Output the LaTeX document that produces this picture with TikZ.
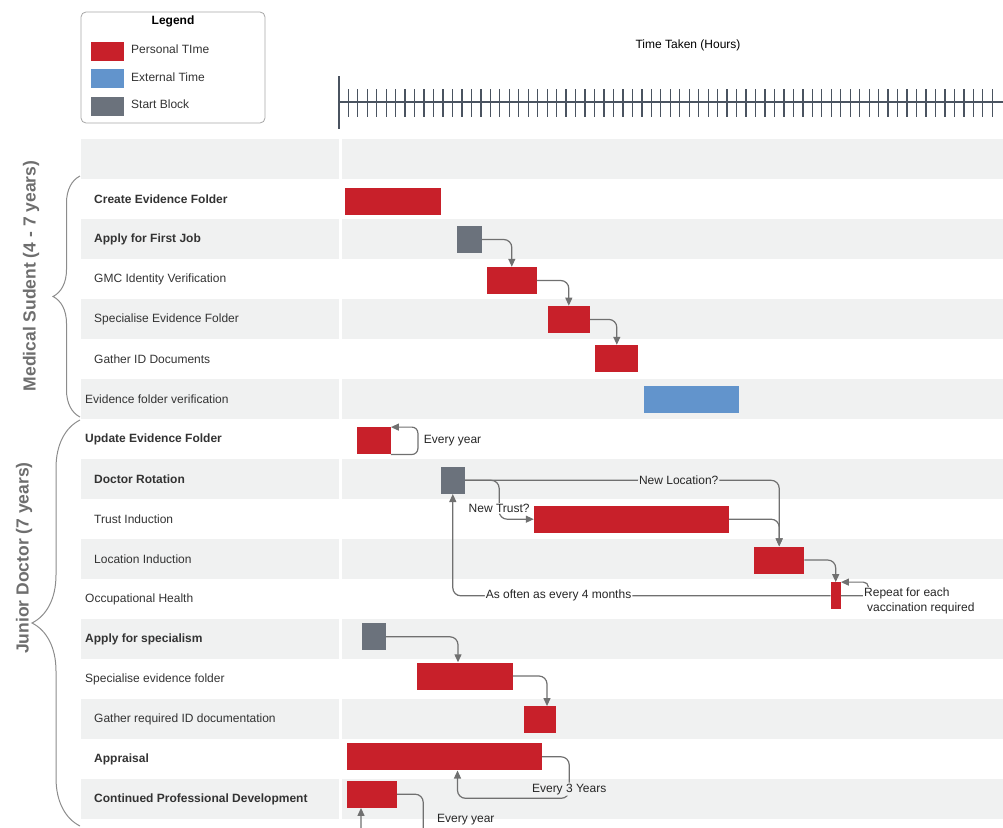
\documentclass[tikz,border=0pt]{standalone}
\usepackage{fontspec}
\setmainfont{Liberation Sans}
\usepackage{tikz}
\usetikzlibrary{arrows.meta, decorations.pathreplacing}

\definecolor{ptime}{HTML}{C8202A}
\definecolor{etime}{HTML}{6294CC}
\definecolor{sblock}{HTML}{6B727C}
\definecolor{rowgray}{HTML}{F0F1F1}
\definecolor{linegray}{HTML}{707070}
\definecolor{axisgray}{HTML}{4A5360}
\definecolor{txtgray}{HTML}{333333}
\definecolor{bracegray}{HTML}{8C8C8C}
\definecolor{grouptxt}{HTML}{6E6E6E}

\begin{document}
\begin{tikzpicture}[x=1pt,y=-1pt,
  font=\fontsize{12}{14}\selectfont,
  bar/.style={inner sep=0pt,minimum height=27pt},
  pbar/.style={bar,fill=ptime},
  ebar/.style={bar,fill=etime},
  sbar/.style={bar,fill=sblock},
  rowlabel/.style={anchor=west,inner sep=0pt,text=txtgray},
  conn/.style={draw=linegray,line width=1.2pt,rounded corners=8pt,-{Triangle[length=8pt,width=7pt]}},
  lbl/.style={fill=white,inner sep=1pt,text=black!85},
  grp/.style={rotate=90,font=\fontsize{17.5}{20}\selectfont\bfseries,text=grouptxt},
  grpbrace/.style={draw=bracegray,line width=1pt,decorate,decoration={brace,amplitude=#1}}]
\useasboundingbox (0,0) rectangle (1003,827);
\clip (0,0) rectangle (1003,827);

\foreach \i in {0,2,...,16} {
  \fill[rowgray] (81,139+40*\i) rectangle (339,179+40*\i);
  \fill[rowgray] (342,139+40*\i) rectangle (1003,179+40*\i);
}

% legend
\node[draw=gray!70,line width=0.8pt,rounded corners=5pt,minimum width=184pt,minimum height=111pt] (legend) at (173,67.5) {};
\node[font=\fontsize{12}{14}\selectfont\bfseries] (legendtitle) at (173,21) {Legend};
\node[pbar,minimum width=33pt,minimum height=19pt] (keyp) at (107,51) {};
\node[ebar,minimum width=33pt,minimum height=19pt] (keye) at (107,78.5) {};
\node[sbar,minimum width=33pt,minimum height=19pt] (keys) at (107,106) {};
\node[rowlabel] (keyptxt) at (131,49) {Personal TIme};
\node[rowlabel] (keyetxt) at (131,77) {External Time};
\node[rowlabel] (keystxt) at (131,104) {Start Block};

% time axis
\node (axistitle) at (688,45) {Time Taken (Hours)};
\draw[axisgray,line width=1.5pt] (339,76) -- (339,129);
\draw[axisgray,line width=1.5pt] (339,102) -- (1003,102);
\foreach \k in {0,...,68}
  \draw[axisgray,line width=1.3pt] (348.3+9.47*\k,89) -- ++(0,28);

\foreach \i/\x/\txt in {
  1/94/\bfseries Create Evidence Folder,
  2/94/\bfseries Apply for First Job,
  3/94/GMC Identity Verification,
  4/94/Specialise Evidence Folder,
  5/94/Gather ID Documents,
  6/85/Evidence folder verification,
  7/85/\bfseries Update Evidence Folder,
  8/94/\bfseries Doctor Rotation,
  9/94/Trust Induction,
  10/94/Location Induction,
  11/85/Occupational Health,
  12/85/\bfseries Apply for specialism,
  13/85/Specialise evidence folder,
  14/94/Gather required ID documentation,
  15/94/\bfseries Appraisal,
  16/94/\bfseries Continued Professional Development}
  \node[rowlabel] (row\i) at (\x,159+40*\i) {\txt};

% groups
\draw[grpbrace=27pt] (80,417) -- (80,176);
\node[grp] (medstudent) at (31,276) {Medical Sudent (4 - 7 years)};
\draw[grpbrace=48pt] (80,826) -- (80,420);
\node[grp] (juniordoc) at (24,558) {Junior Doctor (7 years)};

% bars
\node[pbar,minimum width=96pt] (cef) at (393,201) {};
\node[sbar,minimum width=24.7pt] (afj) at (469.3,239.5) {};
\node[pbar,minimum width=49.7pt] (gmc) at (511.8,280.5) {};
\node[pbar,minimum width=42.3pt] (sef) at (568.8,319.4) {};
\node[pbar,minimum width=43pt] (gid) at (616.8,358.5) {};
\node[ebar,minimum width=95.6pt] (efv) at (691.5,399) {};
\node[pbar,minimum width=33.4pt] (uef) at (374,440.8) {};
\node[sbar,minimum width=24.3pt] (drot) at (452.8,480.3) {};
\node[pbar,minimum width=195pt] (tri) at (631.5,519.2) {};
\node[pbar,minimum width=49.7pt] (loc) at (779.2,560) {};
\node[pbar,minimum width=10pt] (occ) at (835.7,595.8) {};
\node[sbar,minimum width=24pt] (asp) at (373.7,636.8) {};
\node[pbar,minimum width=95.4pt] (sev) at (465,676) {};
\node[pbar,minimum width=32.6pt] (grd) at (540,719.8) {};
\node[pbar,minimum width=195pt] (apr) at (444.5,756.8) {};
\node[pbar,minimum width=50pt] (cpd) at (372,794.2) {};

% connectors
\draw[conn] (afj.east) -| (gmc.north);
\draw[conn] (gmc.east) -| (sef.north);
\draw[conn] (sef.east) -| (gid.north);
\draw[conn,rounded corners=6pt] (uef.south east) -- ++(27,0) |- node[pos=0.25,anchor=west,xshift=2pt,text=black!85] {Every year} (uef.north east);
\draw[conn] (drot.east) -| node[pos=0.34,lbl,fill=rowgray] {New Location?} (loc.north);
\draw[conn] (drot.east) -- ++(34,0) |- node[pos=0.36,lbl] {New Trust?} (tri.west);
\draw[conn] (tri.east) -| (loc.north);
\draw[conn] (loc.east) -| (occ.north);
\draw[conn,rounded corners=5pt] (occ.east) -- ++(27.5,0) |- (occ.north east);
\node[lbl,anchor=west,align=left,font=\fontsize{12}{15}\selectfont] (repeatlbl) at (863,601) {Repeat for each\\\hspace*{3pt}vaccination required};
\draw[conn] (occ.west) -| node[pos=0.36,lbl] {As often as every 4 months} (drot.south);
\draw[conn] (asp.east) -| ([xshift=-7pt]sev.north);
\draw[conn] (sev.east) -| ([xshift=7pt]grd.north);
\draw[conn] (apr.east) -- ++(27,0) -- ++(0,41.5) node[pos=0.78,lbl,fill=rowgray] {Every 3 Years} -| ([xshift=13pt]apr.south);
\draw[conn] (cpd.east) -- ++(26,0) -- ++(0,50) node[pos=0.5,anchor=west,xshift=10pt,text=black!85] {Every year} -| ([xshift=-11pt]cpd.south);
\end{tikzpicture}
\end{document}
